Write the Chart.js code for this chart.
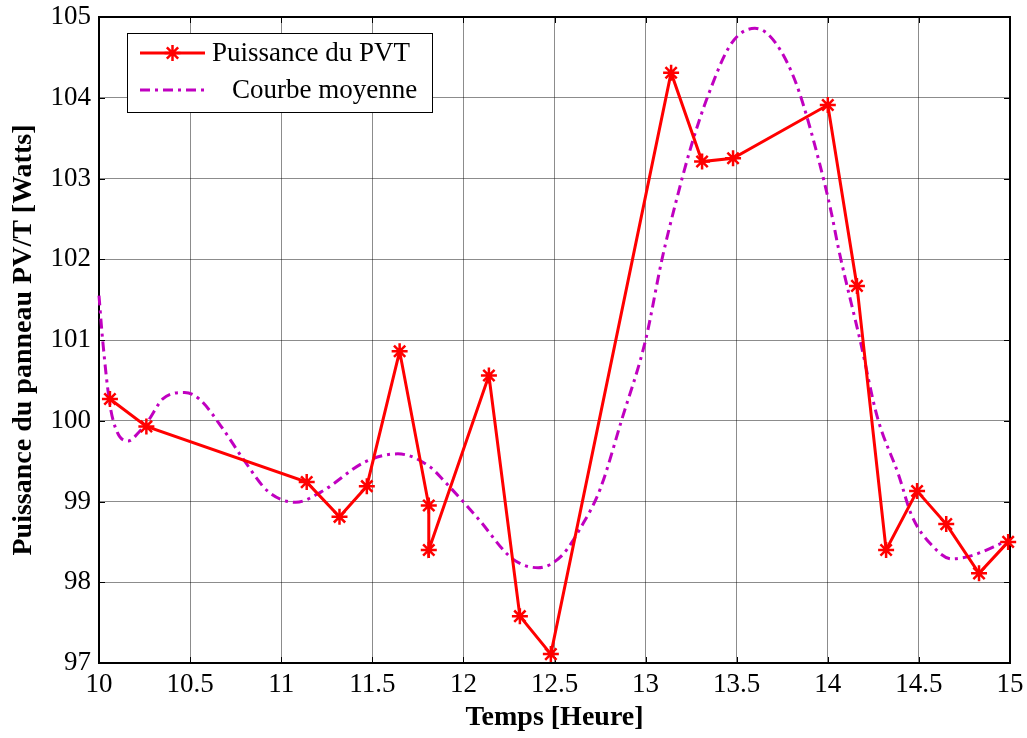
<!DOCTYPE html>
<html><head><meta charset="utf-8">
<script src="https://cdn.jsdelivr.net/npm/chart.js@4/dist/chart.umd.min.js"></script>
<style>html,body{margin:0;padding:0;background:#fff}#wrap{width:1027px;height:738px}</style>
</head><body><div id="wrap"><canvas id="c" width="1027" height="738"></canvas></div>
<script>
// ---- data ----
const pvtTimes = [10.06, 10.26, 11.14, 11.32, 11.47, 11.65, 11.81, 11.81, 12.14, 12.31, 12.48, 13.14, 13.31, 13.48, 14.00, 14.16, 14.32, 14.49, 14.65, 14.83, 14.99];
const pvtPower = [100.27, 99.93, 99.24, 98.81, 99.19, 100.86, 98.95, 98.40, 100.56, 97.58, 97.11, 104.31, 103.21, 103.25, 103.91, 101.67, 98.40, 99.13, 98.72, 98.11, 98.50];
const meanTimes = [10.00, 10.02, 10.06, 10.10, 10.16, 10.22, 10.27, 10.35, 10.47, 10.55, 10.68, 10.79, 10.93, 11.08, 11.22, 11.46, 11.64, 11.81, 11.90, 12.08, 12.27, 12.41, 12.54, 12.65, 12.75, 12.87, 13.00, 13.09, 13.17, 13.25, 13.34, 13.47, 13.60, 13.67, 13.76, 13.84, 13.95, 14.02, 14.06, 14.18, 14.27, 14.39, 14.46, 14.57, 14.68, 14.79, 14.97];
const meanPower = [101.55, 101.0, 100.2, 99.86, 99.75, 99.86, 100.0, 100.27, 100.35, 100.27, 99.90, 99.53, 99.12, 98.99, 99.12, 99.49, 99.59, 99.44, 99.24, 98.79, 98.29, 98.18, 98.33, 98.70, 99.15, 100.02, 101.0, 102.0, 102.74, 103.40, 104.01, 104.67, 104.86, 104.79, 104.51, 104.09, 103.23, 102.57, 102.12, 100.97, 100.06, 99.32, 98.83, 98.46, 98.29, 98.33, 98.50];
const xTickValues = [10, 10.5, 11, 11.5, 12, 12.5, 13, 13.5, 14, 14.5, 15];
const yTickValues = [97, 98, 99, 100, 101, 102, 103, 104, 105];
const seriesNames = ['Puissance du PVT', 'Courbe moyenne'];
const xTitle = 'Temps [Heure]';
const yTitle = 'Puissance du panneau PV/T [Watts]';

const RED = '#ff0000', MAG = '#c000c0';
const SERIF = "'Liberation Serif', 'Times New Roman', serif";
const DASH = [10, 5, 3, 5];

const framePlugin = {
  id: 'frame',
  beforeDatasetsDraw(chart) {
    const {ctx, chartArea: a, scales} = chart;
    ctx.save();
    ctx.strokeStyle = '#000';
    ctx.lineWidth = 1;
    const tl = 6;
    ctx.beginPath();
    xTickValues.forEach(v => {
      const x = Math.round(scales.x.getPixelForValue(v)) + 0.5;
      ctx.moveTo(x, a.bottom); ctx.lineTo(x, a.bottom - tl);
      ctx.moveTo(x, a.top); ctx.lineTo(x, a.top + tl);
    });
    yTickValues.forEach(v => {
      const y = Math.round(scales.y.getPixelForValue(v)) + 0.5;
      ctx.moveTo(a.left, y); ctx.lineTo(a.left + tl, y);
      ctx.moveTo(a.right, y); ctx.lineTo(a.right - tl, y);
    });
    ctx.stroke();
    ctx.lineWidth = 2;
    ctx.strokeRect(a.left, a.top, a.right - a.left, a.bottom - a.top);
    ctx.restore();
  },
  afterDraw(chart) {
    const {ctx} = chart;
    ctx.save();
    ctx.fillStyle = '#fff';
    ctx.fillRect(127, 33, 305, 79);
    ctx.strokeStyle = '#000';
    ctx.lineWidth = 1;
    ctx.strokeRect(127.5, 33.5, 305, 79);
    ctx.strokeStyle = RED; ctx.lineWidth = 3;
    ctx.beginPath(); ctx.moveTo(140, 53); ctx.lineTo(205, 53); ctx.stroke();
    ctx.lineWidth = 2.5;
    Chart.helpers.drawPoint(ctx, {pointStyle: 'star', radius: 8, borderWidth: 2.5}, 172.5, 53);
    ctx.strokeStyle = MAG; ctx.lineWidth = 3; ctx.setLineDash(DASH);
    ctx.beginPath(); ctx.moveTo(140, 90); ctx.lineTo(205, 90); ctx.stroke();
    ctx.setLineDash([]);
    ctx.fillStyle = '#000';
    ctx.font = '27px ' + SERIF;
    ctx.textBaseline = 'middle';
    ctx.textAlign = 'left';
    ctx.fillText(seriesNames[0], 212, 54);
    ctx.fillText(seriesNames[1], 232, 91);
    ctx.restore();
  }
};

new Chart(document.getElementById('c'), {
  type: 'line',
  data: {
    datasets: [
      {
        label: seriesNames[0],
        data: pvtTimes.map((t, i) => ({x: t, y: pvtPower[i]})),
        borderColor: RED, backgroundColor: RED,
        borderWidth: 3,
        pointStyle: 'star', pointRadius: 8, pointBorderWidth: 2.5,
        pointBorderColor: RED, pointBackgroundColor: RED,
        tension: 0, clip: false, order: 1
      },
      {
        label: seriesNames[1],
        data: meanTimes.map((t, i) => ({x: t, y: meanPower[i]})),
        borderColor: MAG, backgroundColor: MAG,
        borderWidth: 3, borderDash: DASH,
        pointRadius: 0, tension: 0.4, cubicInterpolationMode: 'monotone',
        clip: 2, order: 2
      }
    ]
  },
  options: {
    responsive: false, animation: false, devicePixelRatio: 1,
    layout: {padding: {left: 0, right: 17, top: 17, bottom: 0}},
    plugins: {legend: {display: false}, tooltip: {enabled: false}},
    scales: {
      x: {
        type: 'linear', min: 10, max: 15,
        afterBuildTicks: s => { s.ticks = xTickValues.map(v => ({value: v})); },
        afterFit: s => { s.height = 75; s.paddingLeft = 0; s.paddingRight = 0; },
        grid: {color: 'rgba(0,0,0,0.45)', lineWidth: 1, drawTicks: false},
        border: {display: false},
        ticks: {color: '#000', font: {family: SERIF, size: 27}, padding: 6, maxRotation: 0,
                callback: v => String(v)},
        title: {display: true, text: xTitle, color: '#000',
                font: {family: SERIF, size: 28, weight: 'bold'}, padding: {top: 0, bottom: 3}}
      },
      y: {
        type: 'linear', min: 97, max: 105,
        afterBuildTicks: s => { s.ticks = yTickValues.map(v => ({value: v})); },
        afterFit: s => { s.width = 99; s.paddingTop = 0; s.paddingBottom = 0; },
        grid: {color: 'rgba(0,0,0,0.45)', lineWidth: 1, drawTicks: false},
        border: {display: false},
        ticks: {color: '#000', font: {family: SERIF, size: 27}, padding: 8,
                callback: v => String(v)},
        title: {display: true, text: yTitle, color: '#000',
                font: {family: SERIF, size: 28, weight: 'bold'}, padding: {top: 7, bottom: 0}}
      }
    }
  },
  plugins: [framePlugin]
});
</script></body></html>
